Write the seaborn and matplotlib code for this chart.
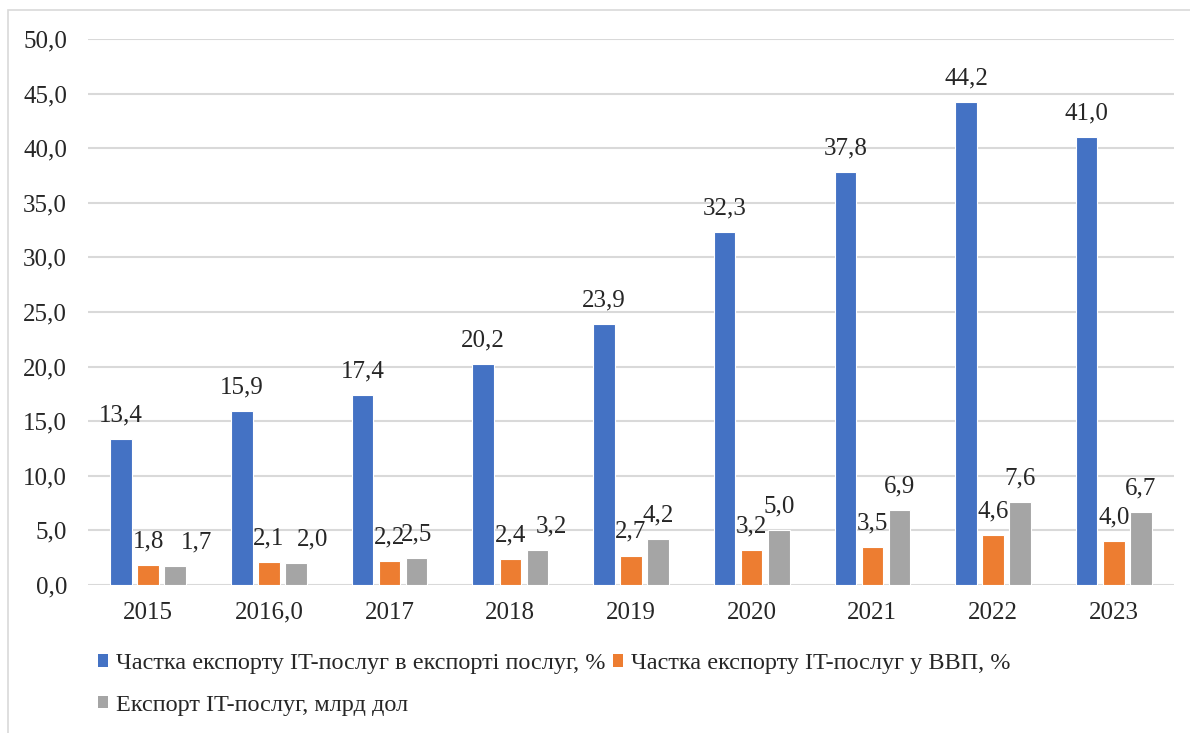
import pandas as pd
import matplotlib.pyplot as plt
import matplotlib.patches as mpatches
import seaborn as sns

# Data
years = ['2015', '2016,0', '2017', '2018', '2019', '2020', '2021', '2022', '2023']
share_services = [13.4, 15.9, 17.4, 20.2, 23.9, 32.3, 37.8, 44.2, 41.0]
share_gdp = [1.8, 2.1, 2.2, 2.4, 2.7, 3.2, 3.5, 4.6, 4.0]
export_bn = [1.7, 2.0, 2.5, 3.2, 4.2, 5.0, 6.9, 7.6, 6.7]

series_names = [
    'Частка експорту IT-послуг в експорті послуг, %',
    'Частка експорту IT-послуг у ВВП, %',
    'Експорт IT-послуг, млрд дол',
]
colors = ['#4472C4', '#ED7D31', '#A5A5A5']

df = pd.DataFrame({
    'year': years * 3,
    'value': share_services + share_gdp + export_bn,
    'series': [series_names[0]] * 9 + [series_names[1]] * 9 + [series_names[2]] * 9,
})

sns.set_style('white')
plt.rcParams['font.family'] = ['Liberation Serif', 'DejaVu Serif']

fig = plt.figure(figsize=(11.9, 7.33), dpi=100)
ax = fig.add_axes([0.0739, 0.2019, 0.9127, 0.7449])

sns.barplot(data=df, x='year', y='value', hue='series', palette=colors,
            saturation=1, width=0.672, gap=0.2, edgecolor='white', linewidth=0.8,
            legend=False, ax=ax)

ax.set_ylim(0, 50)
ax.set_yticks(range(0, 51, 5))
ax.set_yticklabels([f'{v:.1f}'.replace('.', ',') for v in range(0, 51, 5)])
ax.set_xlim(-0.5, len(years) - 0.5)
ax.yaxis.grid(True, color='#D9D9D9', linewidth=1.5)
ax.set_axisbelow(True)
for s in ax.spines.values():
    s.set_visible(False)
ax.tick_params(axis='y', length=0, pad=15, labelsize=18)
ax.tick_params(axis='x', length=0, pad=12, labelsize=18)
ax.set_xlabel('')
ax.set_ylabel('')

# horizontal nudges (px) for the grey labels, as in the original
gray_nudge = [21, 17, 0, 14, 0, 0, 0, 0, 0]
for i, cont in enumerate(ax.containers):
    for j, bar in enumerate(cont):
        h = bar.get_height()
        dx = gray_nudge[j] * 0.72 if i == 2 else 0
        ax.annotate(f'{h:.1f}'.replace('.', ','),
                    (bar.get_x() + bar.get_width() / 2, h),
                    xytext=(dx, 17), textcoords='offset points',
                    ha='center', va='center', fontsize=18)

# legend fills column-wise, so reorder to get blue, orange / grey rows
handles = [mpatches.Patch(facecolor=c, edgecolor='none') for c in colors]
order = [0, 2, 1]
fig.legend([handles[k] for k in order], [series_names[k] for k in order],
           loc='upper left', bbox_to_anchor=(0.082, 0.109),
           ncol=2, frameon=False, fontsize=17.5, handlelength=0.42, handleheight=0.42,
           handletextpad=0.33, columnspacing=0.3, labelspacing=0.85,
           borderaxespad=0, borderpad=0)

# light outer border like the chart area frame
fig.patches.append(mpatches.Rectangle((8 / 1190, -0.05), 1.1, 1 - 10 / 733 + 0.05,
                                      transform=fig.transFigure, fill=False,
                                      edgecolor='#D9D9D9', linewidth=1.2))

fig.savefig('out.png', dpi=100)
